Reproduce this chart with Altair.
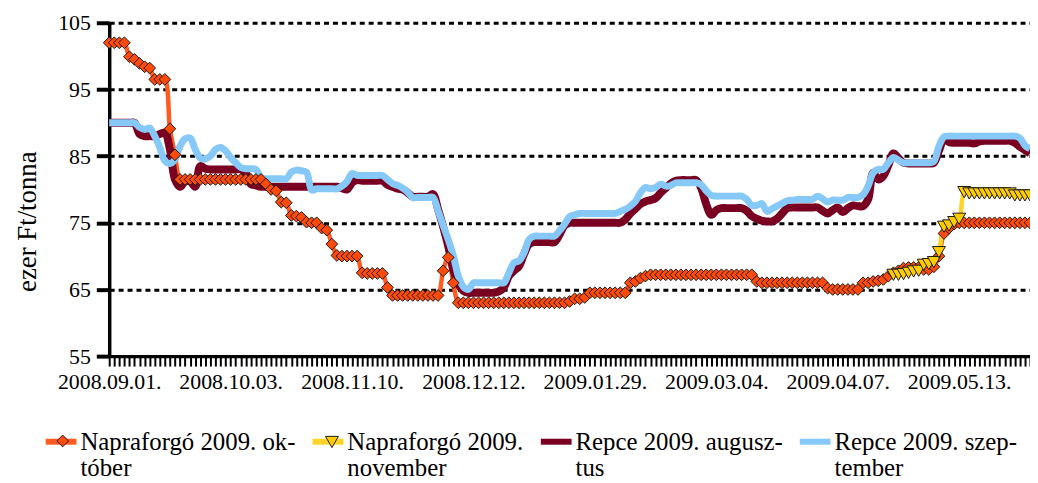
import json
import altair as alt
import pandas as pd

# ---- data ----
date_labels = ["2008.09.01.", "2008.10.03.", "2008.11.10.", "2008.12.12.",
               "2009.01.29.", "2009.03.04.", "2009.04.07.", "2009.05.13."]
label_every = 24
n_days = 183

napraforgo_okt = [
    102.0, 102.0, 102.0, 102.0,
    99.9, 99.5, 98.9, 98.4, 98.2, 96.5, 96.5, 96.5, 89.1, 85.2,
    81.5, 81.5, 81.5, 81.5, 81.5, 81.5, 81.5, 81.5, 81.5, 81.5, 81.5, 81.5, 81.5, 81.5, 81.5, 81.5, 81.5,
    80.8, 80.0, 79.8, 78.1, 78.0, 76.1, 76.0, 75.8, 75.1, 75.0, 75.0, 74.2, 73.9, 71.8, 70.1,
    70.0, 70.0, 70.0, 70.0,
    67.5, 67.4, 67.4, 67.4, 67.4,
    65.3,
    64.1, 64.1, 64.1, 64.1, 64.1, 64.1, 64.1, 64.1, 64.1, 64.1,
    67.8, 69.8, 66.0,
    63.0, 63.0, 63.0, 63.0, 63.0, 63.0, 63.0, 63.0, 63.0, 63.0, 63.0,
    63.0, 63.0, 63.0, 63.0, 63.0, 63.0, 63.0, 63.0, 63.0, 63.0, 63.0,
    63.2, 63.6, 63.6, 63.8,
    64.5, 64.5, 64.5, 64.5, 64.5, 64.5, 64.5, 64.5,
    66.0, 66.2, 66.7, 67.0,
    67.2, 67.2, 67.2, 67.2, 67.2, 67.2, 67.2, 67.2, 67.2, 67.2, 67.2,
    67.2, 67.2, 67.2, 67.2, 67.2, 67.2, 67.2, 67.2, 67.2, 67.2,
    66.2,
    66.0, 66.0, 66.0, 66.0, 66.0, 66.0, 66.0, 66.0, 66.0, 66.0, 66.0, 66.0, 66.0,
    65.2,
    65.0, 65.0, 65.0, 65.0, 65.0, 65.0,
    66.0, 66.0, 66.2, 66.3, 66.5, 67.0, 67.5, 67.8, 68.2, 68.3, 68.3, 68.3, 68.0, 68.0, 68.4, 70.0, 73.4, 74.2, 74.8,
    75.0, 75.0, 75.0, 75.0, 75.0, 75.0, 75.0, 75.0, 75.0, 75.0, 75.0, 75.0, 75.0, 75.0, 75.0,
]

napraforgo_nov_start = 155
napraforgo_nov = [
    67.2, 67.2, 67.3, 67.5, 67.7, 67.8, 68.7, 68.8, 69.1, 70.6, 74.4, 74.6, 75.1, 75.6,
    79.6,
    79.4, 79.4, 79.4, 79.4, 79.4, 79.4, 79.4, 79.4, 79.4,
    79.1, 79.1, 79.1, 79.1,
]

repce_aug = [
    90.0, 90.0, 90.0, 90.0, 90.0, 90.0,
    88.3, 88.0, 88.0, 88.0, 88.3, 88.5, 86.0, 81.5, 80.4, 81.2, 81.2, 80.4, 83.5, 83.1,
    83.0, 83.0, 83.0, 83.0, 83.0, 83.0, 83.0,
    82.5, 80.8, 80.6,
    80.4, 80.4, 80.4, 80.4, 80.4, 80.4, 80.4, 80.4, 80.4, 80.4, 80.4, 80.4, 80.4, 80.4, 80.4, 80.4,
    80.2, 80.0, 81.0, 81.4,
    81.3, 81.3, 81.3, 81.3, 81.3,
    80.7, 80.4, 80.1, 80.0, 79.5,
    78.9, 78.9, 78.9, 78.9,
    79.3, 77.0, 74.4, 71.5, 68.0, 65.8, 64.8, 64.5,
    64.5, 64.5, 64.5, 64.5, 64.5,
    64.7, 65.3, 67.0, 67.8, 68.5, 70.3, 71.8, 72.1,
    72.1, 72.1, 72.1, 72.1,
    73.2, 74.6, 75.0,
    75.0, 75.0, 75.0, 75.0, 75.0, 75.0, 75.0, 75.0, 75.0, 75.0,
    75.5, 76.4, 77.1, 77.8, 78.2, 78.4, 78.7, 79.5, 80.2, 80.9, 81.3,
    81.4, 81.4, 81.4, 81.4,
    80.2, 77.8, 76.2, 76.9, 77.2,
    77.2, 77.2, 77.2, 77.2,
    76.8, 76.0, 75.6, 75.3, 75.2, 75.2, 75.6, 76.4, 77.2,
    77.3, 77.3, 77.3, 77.3, 77.3, 77.3,
    76.8, 76.4, 76.9, 77.3, 76.6, 77.2, 77.6, 77.5, 77.5, 78.5, 82.5, 81.5, 82.0, 83.6, 85.4, 84.7, 84.0,
    83.9, 83.9, 83.9, 83.9, 83.9,
    84.0, 85.8, 87.5, 87.1,
    87.0, 87.0, 87.0, 87.0,
    86.9, 87.2, 87.3,
    87.3, 87.3, 87.3, 87.3, 87.3,
    87.0, 86.4, 85.9, 85.4,
]

repce_szept = [
    90.0, 90.0, 90.0, 90.0, 90.0, 90.0,
    89.3, 89.0, 89.2, 88.0, 86.3, 84.3, 83.9, 84.5, 86.5, 87.6,
    87.7, 86.0, 84.7, 84.6, 85.0, 86.0, 86.3, 85.8, 84.8, 84.0,
    83.3, 83.1, 83.1, 83.0,
    81.8,
    81.6, 81.6, 81.6, 81.6, 81.6,
    82.6, 82.9, 82.8, 82.6,
    79.9,
    80.1, 80.1, 80.1, 80.1, 80.1,
    80.5, 81.2, 82.4,
    82.1, 82.1, 82.1, 82.1, 82.1, 82.1,
    81.5, 80.9, 80.6, 80.2, 79.6,
    78.8, 78.8, 78.8, 78.8, 78.8,
    76.8, 74.6, 72.5, 70.1, 67.0, 65.4, 65.0, 66.0,
    66.0, 66.0, 66.0, 66.0, 66.0, 66.0,
    67.5, 69.0, 69.3, 70.5, 72.5, 73.0,
    73.0, 73.0, 73.0, 73.0,
    73.8, 74.8, 75.9, 76.2,
    76.4, 76.4, 76.4, 76.4, 76.4, 76.4, 76.4, 76.4,
    76.7, 77.0, 77.5, 78.2, 79.5, 80.3, 80.1, 80.3, 80.8, 80.5, 80.6, 81.0,
    81.0, 81.0, 81.0, 81.0,
    80.7, 79.8, 79.1,
    79.0, 79.0, 79.0, 79.0, 79.0, 79.0,
    78.5, 77.6, 77.6, 77.9, 76.7, 77.1, 77.5, 77.9, 78.3, 78.4,
    78.5, 78.5, 78.5, 78.5,
    79.0, 78.6, 78.1, 78.4, 78.4, 78.4,
    78.8, 78.8, 78.8,
    79.2, 80.5, 82.5, 83.0, 83.0, 84.0, 84.8, 84.4, 84.0,
    84.0, 84.0, 84.0, 84.0, 84.0,
    84.2, 86.5, 87.9, 88.0,
    88.0, 88.0, 88.0, 88.0, 88.0, 88.0, 88.0, 88.0, 88.0, 88.0, 88.0, 88.0, 88.0,
    87.7, 86.6, 86.1,
]

series_names = ["Napraforgó 2009. október", "Napraforgó 2009. november",
                "Repce 2009. augusztus", "Repce 2009. szeptember"]
legend_text = [["Napraforgó 2009. ok-", "tóber"], ["Napraforgó 2009.", "november"],
               ["Repce 2009. augusz-", "tus"], ["Repce 2009. szep-", "tember"]]

# ---- styles ----
line_colors = ["#FF5A1F", "#FFD426", "#7A0021", "#86C9F9"]
line_widths = [4.5, 4.5, 8, 7]
marker_fill = ["#FF4A0A", "#FFCC00"]
marker_shape = ["diamond", "triangle-down"]
marker_size = [140, 170]
FONT = "Liberation Serif"

rows = []
for i, v in enumerate(napraforgo_okt):
    rows.append({"idx": i, "value": v, "series": series_names[0]})
for k, v in enumerate(napraforgo_nov):
    rows.append({"idx": napraforgo_nov_start + k, "value": v, "series": series_names[1]})
for i, v in enumerate(repce_aug):
    rows.append({"idx": i, "value": v, "series": series_names[2]})
for i, v in enumerate(repce_szept):
    rows.append({"idx": i, "value": v, "series": series_names[3]})
df = pd.DataFrame(rows)

x_label_expr = (f"datum.value % {label_every} == 0 ? "
                f"{json.dumps(date_labels)}[datum.value / {label_every}] : ''")
legend_expr = " : ".join(
    f"datum.label == '{n}' ? {json.dumps(t, ensure_ascii=False)}"
    for n, t in zip(series_names, legend_text)) + " : datum.label"

x_enc = alt.X("idx:Q",
              scale=alt.Scale(domain=[0, n_days - 1], nice=False, zero=False),
              axis=alt.Axis(values=list(range(n_days)), labelExpr=x_label_expr,
                            labelOverlap=False, labelFlush=False, grid=False, title=None,
                            tickSize=10, tickWidth=2, tickColor="black",
                            domainColor="black", domainWidth=3.5,
                            labelFont=FONT, labelFontSize=22, labelColor="black",
                            labelPadding=6))
y_enc = alt.Y("value:Q",
              scale=alt.Scale(domain=[55, 105], nice=False, zero=False),
              axis=alt.Axis(values=[55, 65, 75, 85, 95, 105], grid=True,
                            gridColor="black", gridDash=[5, 4], gridWidth=3,
                            tickSize=13, tickWidth=4, tickColor="black",
                            domainColor="black", domainWidth=3.5,
                            labelFont=FONT, labelFontSize=22, labelColor="black",
                            labelPadding=6, labelFlush=False,
                            title="ezer Ft/tonna", titleFont=FONT, titleFontSize=27,
                            titleFontWeight="normal", titleColor="black",
                            titleX=-82, titleY=200, titleAngle=-90,
                            titleAlign="center", titleBaseline="middle"))

# legend geometry (pixels relative to the plot area)
LEG_X = -67
LEG_Y = 403.5
SYM_LEN = 31
MARK_LEG_Y = 415
MARK_LEG_X = [-53.4, 217.0]

line_legend = alt.Legend(title=None, orient="none", legendX=LEG_X, legendY=LEG_Y,
                         direction="horizontal", columns=4, symbolType="stroke",
                         symbolSize=SYM_LEN ** 2, symbolStrokeWidth=6,
                         labelFont=FONT, labelFontSize=25, labelColor="black",
                         labelOffset=1, columnPadding=5, labelLimit=0,
                         labelExpr=legend_expr, padding=0, labelBaseline="middle")

base = alt.Chart(df).encode(x=x_enc, y=y_enc)

color_enc = alt.Color("series:N", scale=alt.Scale(domain=series_names, range=line_colors),
                      legend=line_legend)
layers = []
for name, w in zip(series_names, line_widths):
    layers.append(base.transform_filter(alt.datum.series == name)
                  .mark_line(strokeWidth=w, interpolate="catmull-rom")
                  .encode(color=color_enc))

for k in range(2):
    name = series_names[k]
    mk_legend = alt.Legend(title=None, orient="none", legendX=MARK_LEG_X[k], legendY=MARK_LEG_Y,
                           symbolType=marker_shape[k], symbolSize=marker_size[k],
                           symbolStrokeColor="#1a1a1a", symbolStrokeWidth=1,
                           symbolFillColor=marker_fill[k], symbolOpacity=1,
                           labelExpr="''", labelFontSize=1, labelOffset=0, padding=0)
    layers.append(base.transform_filter(alt.datum.series == name)
                  .mark_point(filled=True, shape=marker_shape[k], size=marker_size[k],
                              stroke="#1a1a1a", strokeWidth=1, opacity=1)
                  .encode(fill=alt.Fill("series:N",
                                        scale=alt.Scale(domain=[name], range=[marker_fill[k]]),
                                        legend=mk_legend)))

chart = alt.layer(*layers).resolve_scale(fill="independent").properties(
    width=928, height=336,
    padding={"left": 102, "top": 13, "right": 0, "bottom": 127},
    autosize=alt.AutoSizeParams(type="none"),
    background="white",
).configure_view(stroke=None)

chart.save("out.html", embed_options={"renderer": "svg", "actions": False})
